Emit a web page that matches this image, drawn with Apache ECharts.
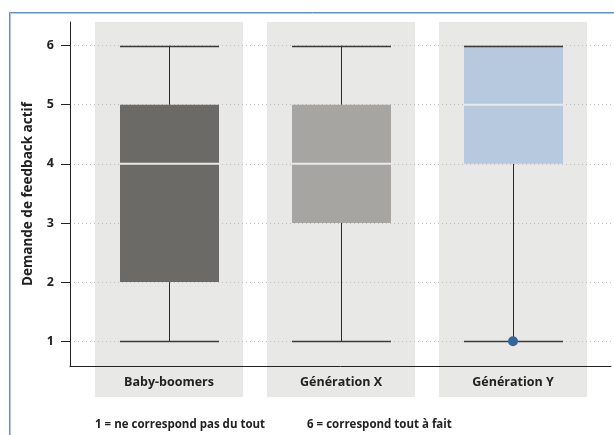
<!DOCTYPE html>
<html>
<head>
<meta charset="utf-8">
<script src="https://cdn.jsdelivr.net/npm/echarts@6/dist/echarts.min.js"></script>
<style>
html,body{margin:0;padding:0;background:#fff;}
#chart{width:614px;height:435px;}
</style>
</head>
<body>
<div id="chart"></div>
<script>
// ---- data ----
const categories = ['Baby-boomers', 'Génération X', 'Génération Y'];
const whiskerLow = [1, 1, 1];
const q1 = [2, 3, 4];
const median = [4, 4, 5];
const q3 = [5, 5, 6];
const whiskerHigh = [6, 6, 6];
const outliers = [[2, 1]];
const yTicks = [1, 2, 3, 4, 5, 6];
const yName = 'Demande de feedback actif';
const notes = ['1 = ne correspond pas du tout', '6 = correspond tout à fait'];

// ---- styles ----
const boxColors = ['#6b6a66', '#a6a5a2', '#b7c9de'];
const FONT = '"Open Sans", "Noto Sans", sans-serif';
const yMin = 0.58, yMax = 6.4;

const boxData = categories.map((c, i) => [i, whiskerLow[i], q1[i], median[i], q3[i], whiskerHigh[i]]);
const bandData = categories.map((c, i) => [i, yMax]);

function px(v) { return Math.round(v) + 0.5; }

function renderBand(params, api) {
  const i = api.value(0);
  const c = api.coord([i, api.value(1)]);
  const slot = api.size([1, 0])[0];
  const w = slot * 0.86;
  const cs = params.coordSys;
  return {
    type: 'rect',
    shape: { x: Math.round(c[0] - w / 2), y: cs.y, width: Math.round(w), height: cs.height + 31 },
    style: { fill: '#e8e8e7' }
  };
}

function renderBox(params, api) {
  const i = api.value(0);
  const lo = api.coord([i, api.value(1)]);
  const a = api.coord([i, api.value(2)]);
  const m = api.coord([i, api.value(3)]);
  const b = api.coord([i, api.value(4)]);
  const hi = api.coord([i, api.value(5)]);
  const slot = api.size([1, 0])[0];
  const w = Math.round(slot * 0.575);
  const cx = px(lo[0]);
  const x0 = Math.round(lo[0] - w / 2);
  const lineStyle = { stroke: '#2b2b2b', lineWidth: 1 };
  return {
    type: 'group',
    children: [
      { type: 'line', shape: { x1: cx, y1: lo[1], x2: cx, y2: a[1] }, style: lineStyle },
      { type: 'line', shape: { x1: cx, y1: hi[1], x2: cx, y2: b[1] }, style: lineStyle },
      { type: 'rect', shape: { x: x0, y: b[1], width: w, height: a[1] - b[1] }, style: { fill: boxColors[i] } },
      { type: 'line', shape: { x1: x0, y1: px(lo[1]), x2: x0 + w, y2: px(lo[1]) }, style: { stroke: '#3a3a3a', lineWidth: 1.3 } },
      { type: 'line', shape: { x1: x0, y1: px(hi[1]), x2: x0 + w, y2: px(hi[1]) }, style: { stroke: '#3a3a3a', lineWidth: 1.3 } },
      { type: 'line', shape: { x1: x0, y1: m[1], x2: x0 + w, y2: m[1] }, style: { stroke: '#e9e9e9', lineWidth: 2 } }
    ]
  };
}

const chart = echarts.init(document.getElementById('chart'), null, { renderer: 'canvas' });
chart.setOption({
  animation: false,
  backgroundColor: '#fff',
  textStyle: { fontFamily: FONT },
  grid: [
    { left: 70, right: 3, top: 22, bottom: 69 },
    { left: 83, right: 15, top: 22, bottom: 69 }
  ],
  xAxis: [
    {
      gridIndex: 0, type: 'value', min: 0, max: 1, z: 1,
      axisLine: { show: true, lineStyle: { color: '#222', width: 1 } },
      axisTick: { show: false }, axisLabel: { show: false }, splitLine: { show: false }
    },
    {
      gridIndex: 1, type: 'category', data: categories,
      axisLine: { show: false }, axisTick: { show: false },
      axisLabel: { color: '#222', fontWeight: 'bold', fontSize: 12.5, margin: 10, fontFamily: FONT },
      splitLine: { show: false }
    }
  ],
  yAxis: [
    {
      gridIndex: 0, type: 'value', min: yMin, max: yMax, z: 1,
      name: yName, nameLocation: 'middle', nameGap: 35,
      nameTextStyle: { color: '#222', fontWeight: 'bold', fontSize: 13.5, fontFamily: FONT },
      axisLine: { show: true, lineStyle: { color: '#222', width: 1 } },
      axisTick: { show: true, inside: false, length: 9, customValues: yTicks, lineStyle: { color: '#222' } },
      axisLabel: { customValues: yTicks, color: '#222', fontWeight: 'bold', fontSize: 12.5, margin: 16, fontFamily: FONT },
      splitLine: { show: true, lineStyle: { color: '#bdbdbd', type: [1, 3], width: 1 } }
    },
    {
      gridIndex: 1, type: 'value', min: yMin, max: yMax, show: false,
      splitLine: { show: false }
    }
  ],
  series: [
    {
      type: 'custom', xAxisIndex: 1, yAxisIndex: 1, z: 0,
      renderItem: renderBand, data: bandData, encode: { x: 0, y: 1 }, silent: true
    },
    {
      type: 'custom', xAxisIndex: 1, yAxisIndex: 1, z: 3,
      renderItem: renderBox, data: boxData, encode: { x: 0, y: [1, 2, 3, 4, 5] }
    },
    {
      type: 'scatter', xAxisIndex: 1, yAxisIndex: 1, z: 4,
      data: outliers, symbolSize: 10, itemStyle: { color: '#336699', opacity: 1 }
    }
  ],
  graphic: [
    { type: 'rect', silent: true, shape: { x: 9.5, y: 12.5, width: 800, height: 600 }, style: { fill: null, stroke: '#6590c2', lineWidth: 1 } },
    { type: 'rect', silent: true, shape: { x: 10.5, y: 13.5, width: 800, height: 600 }, style: { fill: null, stroke: '#b4c8e1', lineWidth: 1 } },
    { type: 'text', left: 95, top: 419, style: { text: notes[0], fill: '#222', font: 'bold 11.5px ' + FONT } },
    { type: 'text', left: 307, top: 419, style: { text: notes[1], fill: '#222', font: 'bold 11.5px ' + FONT } }
  ]
});
</script>
</body>
</html>
